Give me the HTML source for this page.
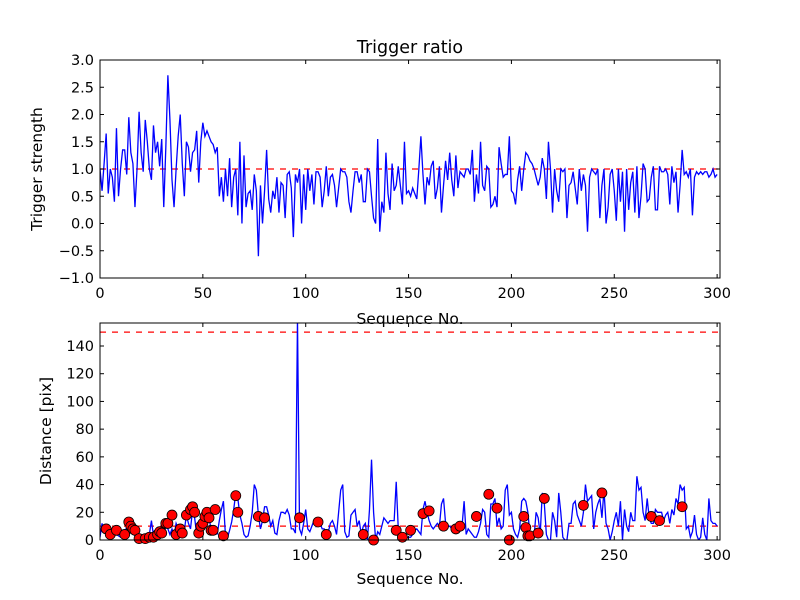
<!DOCTYPE html>
<html><head><meta charset="utf-8"><style>
body{margin:0;background:#fff;}
svg{display:block;font-family:"DejaVu Sans","Liberation Sans",sans-serif;}
</style></head><body>
<svg id="c" width="800" height="600"></svg>
<script>
const strength=[1.0,0.6,1.1,1.65,0.55,1.0,0.85,0.4,1.75,0.5,
1.0,1.35,1.35,0.9,1.95,1.3,1.1,0.3,1.0,2.05,
1.3,0.95,1.9,1.5,1.0,0.8,1.8,1.3,1.5,1.05,
1.55,0.3,1.4,2.72,1.9,0.8,0.3,1.0,1.6,2.0,
1.1,0.5,1.5,1.4,0.95,1.3,1.35,1.7,0.75,1.5,
1.85,1.6,1.7,1.6,1.5,1.45,1.3,1.4,0.5,0.85,
0.4,1.0,0.5,1.2,0.3,0.85,1.0,0.15,1.5,0.0,
1.25,0.3,0.55,0.6,0.25,0.9,0.6,-0.6,0.7,0.0,
0.6,1.35,0.45,0.2,0.6,0.45,0.85,0.2,0.75,0.7,
0.1,0.9,0.95,0.65,-0.25,0.9,0.75,1.0,0.0,0.9,
0.25,1.0,0.6,0.9,0.35,0.95,0.95,0.85,0.3,0.6,
1.05,0.5,0.85,0.9,0.7,0.3,0.65,1.0,0.95,0.95,
0.85,0.4,0.2,0.6,0.95,0.95,0.75,0.9,0.4,0.4,
1.0,0.95,0.5,0.1,0.0,1.55,-0.15,0.4,0.2,1.3,
0.55,0.25,1.1,0.6,0.7,1.05,0.7,0.35,1.5,0.55,
0.6,0.5,0.65,0.55,0.45,1.0,1.6,0.9,0.35,0.85,
0.7,1.05,1.15,0.45,0.65,1.05,0.2,0.7,1.15,0.8,
1.3,0.8,0.5,1.25,0.65,0.95,0.9,0.85,1.0,1.0,
0.9,1.35,0.4,0.9,0.55,1.5,0.7,0.6,1.05,1.0,
0.3,0.35,0.5,0.3,1.4,1.1,0.85,0.9,0.9,1.6,
0.6,0.55,0.35,0.8,1.05,0.6,1.0,1.3,1.25,1.15,
1.1,1.0,0.85,0.7,0.85,1.2,1.0,0.45,1.5,1.0,
0.2,1.0,0.6,0.4,1.0,0.95,1.0,0.1,0.7,0.75,
0.95,0.65,0.35,1.0,0.6,0.9,0.7,-0.15,0.85,1.0,
0.95,0.9,1.0,0.1,0.7,1.0,0.0,0.3,0.9,1.0,
0.6,0.05,1.0,0.4,0.95,-0.15,1.0,0.25,0.75,0.95,
0.2,1.05,0.1,0.5,1.1,1.0,0.4,0.45,0.85,1.05,
0.25,0.25,1.05,0.95,0.95,1.0,0.9,0.35,1.05,0.75,
0.95,0.2,0.7,1.35,0.9,0.95,0.85,1.0,0.15,0.85,
0.95,0.9,0.95,0.9,0.95,0.95,0.85,0.9,1.0,0.85,0.9];
const distance=[2,12,6,8,3,2,7,8,4,3,
2,5,4,10,12,8,6,3,2,1,
0,0,1,1,4,14,3,2,2,5,
3,4,10,8,4,8,3,12,8,3,
2,7,18,12,8,22,16,4,2,10,
12,16,20,18,6,6,8,4,14,22,
28,3,2,7,13,22,34,30,18,12,
4,2,3,10,20,40,36,18,8,14,
24,24,18,10,14,5,4,14,20,20,
19,22,18,8,8,5,160,8,4,12,
22,8,6,10,14,10,14,12,8,8,
5,6,12,14,10,4,20,36,40,6,
2,3,18,20,22,10,14,4,10,12,
0,22,58,20,0,6,4,10,16,14,
12,14,14,14,42,8,6,4,3,2,
2,2,4,7,8,6,4,22,28,20,
14,10,8,10,12,10,26,30,12,10,
10,8,6,8,10,12,10,28,4,8,
6,4,2,2,6,12,22,20,4,2,
26,26,30,10,16,8,10,36,40,18,
20,8,4,2,8,28,30,28,20,4,
3,2,20,16,4,34,26,4,0,0,
20,14,2,34,20,2,0,0,12,12,
26,28,18,14,10,20,40,28,30,32,
8,20,26,30,16,36,12,8,0,6,
14,20,10,28,0,22,10,6,20,14,
14,46,36,38,20,14,30,16,12,12,
22,20,20,20,14,18,20,12,22,18,
30,26,40,36,38,8,10,2,6,18,
4,0,2,16,4,0,30,14,12,12,10];
const dotIdx=[3,5,8,12,14,15,16,17,19,22,24,26,28,29,30,32,33,35,37,39,40,42,44,45,46,48,49,50,51,52,53,54,55,56,60,66,67,77,80,97,106,110,128,133,144,147,151,157,160,167,173,175,183,189,193,199,206,207,208,209,213,216,235,244,268,272,283];
const dotVal=[8,4,7,4,13,10,8,7,1,1,2,2,4,6,5,12,12,18,4,8,5,18,22,24,20,5,10,12,17,20,16,7,7,22,3,32,20,17,16,16,13,4,4,0,7,2,7,19,21,10,8,10,17,33,23,0,17,9,3,3,5,30,25,34,17,14,24];
const xTicks=[0,50,100,150,200,250,300];
const topTicks=[-1.0,-0.5,0.0,0.5,1.0,1.5,2.0,2.5,3.0];
const botTicks=[0,20,40,60,80,100,120,140];
const topThresh=[1.0];
const botThresh=[10,150];

const NS="http://www.w3.org/2000/svg";
const svg=document.getElementById('c');
function mk(tag,attrs,parent){const e=document.createElementNS(NS,tag);for(const k in attrs)e.setAttribute(k,attrs[k]);(parent||svg).appendChild(e);return e;}
const L=100,R=720,XMAX=301.4;
const sx=v=>L+(v/XMAX)*(R-L);
function panel(T,B,ymin,ymax,name){
  const sy=v=>B-(v-ymin)/(ymax-ymin)*(B-T);
  const g=mk('g',{});
  
  
  const cp=mk('clipPath',{id:name+'clip'},g);mk('rect',{x:L,y:T,width:R-L,height:B-T},cp);
  return {g,sy,T,B};
}
function frame(p,yticks,fmt,name){
  const {g,sy,T,B}=p;
  const r=mk('rect',{x:L,y:T,width:R-L,height:B-T,fill:'none',stroke:'#000','stroke-width':1},g);
  
  
  xTicks.forEach(t=>{const x=sx(t);
    mk('line',{x1:x,x2:x,y1:B,y2:B-4,stroke:'#000'},g);
    mk('line',{x1:x,x2:x,y1:T,y2:T+4,stroke:'#000'},g);
    const tx=mk('text',{x:x,y:B+20,'text-anchor':'middle','font-size':14.5},g);tx.textContent=t;
    
    });
  yticks.forEach(t=>{const y=sy(t);
    mk('line',{x1:L,x2:L+4,y1:y,y2:y,stroke:'#000'},g);
    mk('line',{x1:R,x2:R-4,y1:y,y2:y,stroke:'#000'},g);
    const tx=mk('text',{x:L-6,y:y+5,'text-anchor':'end','font-size':14.5},g);tx.textContent=fmt(t);
    
    });
}
function series(p,vals,name){
  const d=vals.map((v,i)=>(i?'L':'M')+sx(i).toFixed(2)+','+p.sy(v).toFixed(2)).join('');
  const e=mk('path',{d,fill:'none',stroke:'#0000ff','stroke-width':1.3,'clip-path':'url(#'+name+'clip)'},p.g);
  
  
}
function thresh(p,vals,name){
  vals.forEach(v=>{const e=mk('line',{x1:L,x2:R,y1:p.sy(v),y2:p.sy(v),stroke:'#ff0000','stroke-width':1.2,'stroke-dasharray':'6,6'},p.g);
  
  });
}
const p1=panel(60,278,-1,3,'top');
thresh(p1,topThresh,'top');
series(p1,strength,'top');
frame(p1,topTicks,t=>t.toFixed(1).replace('-','\u2212'),'top');
const p2=panel(323,540,0,156.6,'bottom');
thresh(p2,botThresh,'bottom');
series(p2,distance,'bottom');
dotIdx.forEach((ix,k)=>{const c=mk('circle',{cx:sx(ix),cy:p2.sy(dotVal[k]),r:5,fill:'#ff0000',stroke:'#000','stroke-width':0.8},p2.g);
  
  });
frame(p2,botTicks,t=>String(t),'bottom');
function txt(s,x,y,size,name,rot){const e=mk('text',{x,y,'text-anchor':'middle','font-size':size});if(rot)e.setAttribute('transform','rotate(-90 '+x+' '+y+')');e.textContent=s;
  
  }
txt('Trigger ratio',410,53,17.5,'chart-title');
txt('Sequence No.',410,324,15.5,'top-x-axis-title');
txt('Sequence No.',410,584,15.5,'bottom-x-axis-title');
txt('Trigger strength',42,169,15.5,'top-y-axis-title',true);
txt('Distance [pix]',51,431,15.5,'bottom-y-axis-title',true);
</script>
</body></html>
